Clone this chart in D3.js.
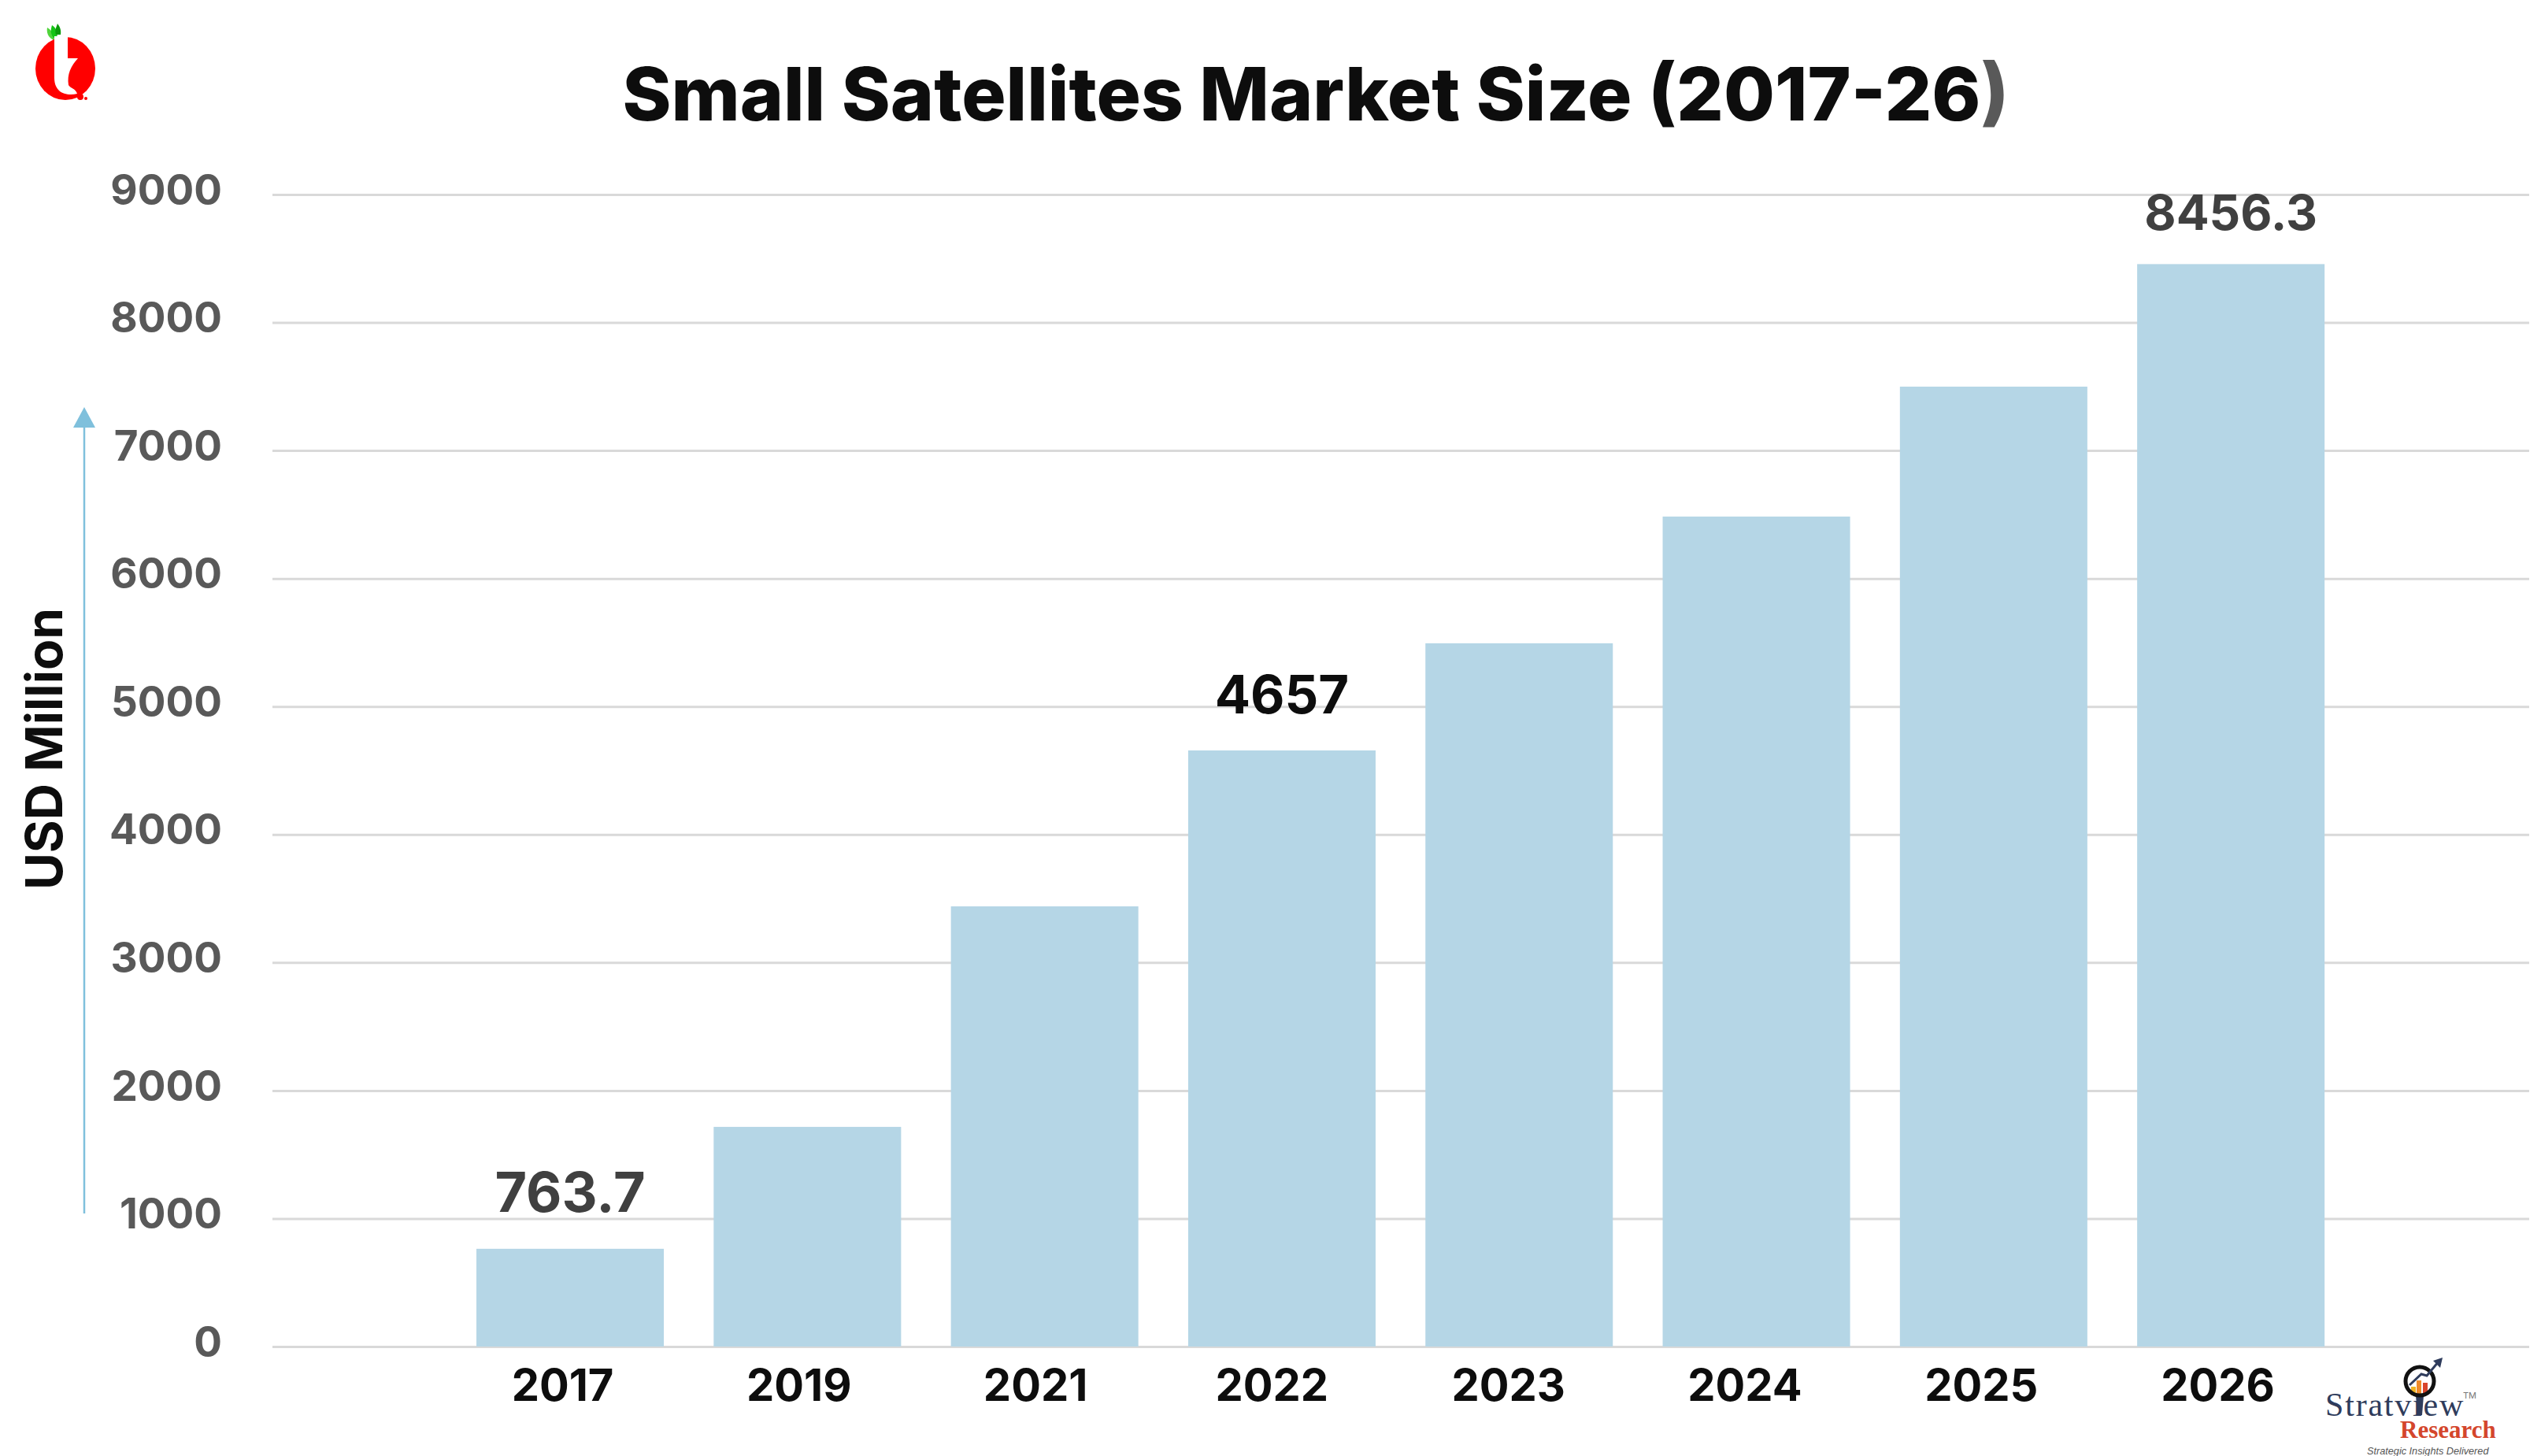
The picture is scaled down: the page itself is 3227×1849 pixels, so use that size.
<!DOCTYPE html>
<html>
<head>
<meta charset="utf-8">
<script src="https://cdn.jsdelivr.net/npm/d3@7"></script>
<style>
  html, body { margin: 0; padding: 0; background: #fff; }
  svg { display: block; }
  text { font-family: Inter, "Noto Sans", sans-serif; }
</style>
</head>
<body>
<svg id="chart"></svg>
<script>
const years = ["2017", "2019", "2021", "2022", "2023", "2024", "2025", "2026"];
const values = [763.7, 1716, 3439, 4657, 5494, 6484, 7499, 8456.3];
const yTicks = [0, 1000, 2000, 3000, 4000, 5000, 6000, 7000, 8000, 9000];
const dataLabels = { 2017: "763.7", 2022: "4657", 2026: "8456.3" };

const width = 3227, height = 1849;
const svg = d3.select("#chart").attr("width", width).attr("height", height);

const y = d3.scaleLinear().domain([0, 9000]).range([1710, 247]);
const x = d3.scaleBand().domain(years).range([573.4, 2983.8]).paddingInner(0.21).paddingOuter(0.105);
const xLabels = d3.scalePoint().domain(years).range([714, 2816]);

// gridlines + y labels
const yAxis = svg.append("g")
  .attr("transform", "translate(346,0)")
  .call(d3.axisLeft(y).tickValues(yTicks).tickFormat(d3.format("d")).tickSize(-2866).tickPadding(64));
yAxis.select(".domain").remove();
yAxis.selectAll("line").attr("stroke", "#d9d9d9").attr("stroke-width", 3);
yAxis.selectAll("text")
  .attr("dy", "0.23em")
  .attr("fill", "#595959")
  .attr("font-size", 53)
  .attr("font-weight", 700)
  .style("font-family", "Inter");

svg.selectAll(".bar")
  .data(years)
  .join("rect")
  .attr("class", "bar")
  .attr("x", (d) => x(d))
  .attr("width", x.bandwidth())
  .attr("y", (d, i) => y(values[i]))
  .attr("height", (d, i) => y(0) - y(values[i]))
  .attr("fill", "#b5d6e6");

// year labels
const xAxis = svg.append("g")
  .attr("transform", "translate(0,1710)")
  .call(d3.axisBottom(xLabels).tickSize(0).tickPadding(29));
xAxis.select(".domain").remove();
xAxis.selectAll("text")
  .attr("fill", "#0d0d0d")
  .attr("font-size", 56)
  .attr("font-weight", 700)
  .style("font-family", "Inter");

// the three labels were not set at one size in the original
const labelSize = { 2017: 70, 2022: 67, 2026: 62 };
const labelGap = { 2017: 47, 2022: 47, 2026: 43 };

svg.selectAll(".value")
  .data(years.filter((d) => dataLabels[d]))
  .join("text")
  .attr("class", "value")
  .attr("x", (d) => x(d) + x.bandwidth() / 2)
  .attr("y", (d) => y(values[years.indexOf(d)]) - labelGap[d])
  .attr("text-anchor", "middle")
  .attr("font-size", (d) => labelSize[d])
  .attr("font-weight", 700)
  .attr("fill", (d) => (d === "2022" ? "#0d0d0d" : "#404040"))
  .text((d) => dataLabels[d]);

// title, closing bracket is grey in the original
const title = svg.append("text")
  .attr("x", 1671)
  .attr("y", 153)
  .attr("text-anchor", "middle")
  .attr("font-size", 94)
  .attr("font-weight", 800)
  .attr("fill", "#0d0d0d");
title.append("tspan").text("Small Satellites Market Size (2017-26");
title.append("tspan").attr("fill", "#595959").text(")");

svg.append("text")
  .attr("transform", "translate(79,951) rotate(-90)")
  .attr("text-anchor", "middle")
  .attr("font-size", 64)
  .attr("font-weight", 700)
  .attr("fill", "#0d0d0d")
  .text("USD Million");

// axis arrow
svg.append("line")
  .attr("x1", 107).attr("x2", 107)
  .attr("y1", 1541).attr("y2", 540)
  .attr("stroke", "#7fc0dc").attr("stroke-width", 2.5);
svg.append("path").attr("d", "M107,517L121,543L93,543Z").attr("fill", "#7fc0dc");

// top left logo
const logo = svg.append("g");
logo.append("path").attr("d", "M70,52C60,48 59,40 60,35C65,38 68,42 70,52Z").attr("fill", "#4fd43a");
logo.append("path").attr("d", "M68,48C63,42 65,36 66,32C72,36 74,42 72,48Z").attr("fill", "#14c414");
logo.append("path").attr("d", "M71,44C69,38 72,34 73,30C76,34 78,38 77,44Z").attr("fill", "#0a9a0a");
logo.append("ellipse").attr("cx", 83).attr("cy", 87).attr("rx", 38).attr("ry", 40).attr("fill", "#ff0000");
logo.append("path")
  .attr("d", "M69,46L86,46L86,74L99,74C90,84 85,94 87,108C89,112 96,112 98,119C90,121 80,120 75,115C70,110 69,104 69,98Z")
  .attr("fill", "#fff");
logo.append("circle").attr("cx", 102).attr("cy", 123).attr("r", 4).attr("fill", "#ff0000");
logo.append("circle").attr("cx", 109).attr("cy", 125).attr("r", 2).attr("fill", "#ff0000");

// bottom right logo
const brand = svg.append("g");
brand.append("text")
  .attr("x", 2953).attr("y", 1798)
  .attr("font-size", 42)
  .attr("letter-spacing", 1.8)
  .attr("fill", "#2f3c5c")
  .style("font-family", "Liberation Serif")
  .text("Stratview");
brand.append("text")
  .attr("x", 3128).attr("y", 1776)
  .attr("font-size", 11)
  .attr("fill", "#777")
  .text("TM");
brand.append("rect").attr("x", 3062).attr("y", 1761).attr("width", 6).attr("height", 11).attr("fill", "#f0b323");
brand.append("rect").attr("x", 3069).attr("y", 1753).attr("width", 6).attr("height", 19).attr("fill", "#ee8a2a");
brand.append("rect").attr("x", 3077).attr("y", 1756).attr("width", 6).attr("height", 16).attr("fill", "#d9452c");
brand.append("path").attr("d", "M3068,1772L3078,1772L3076,1797L3070,1797Z").attr("fill", "#2f3c5c");
brand.append("circle").attr("cx", 3073).attr("cy", 1754).attr("r", 18)
  .attr("fill", "none").attr("stroke", "#111").attr("stroke-width", 5);
brand.append("polyline").attr("points", "3060,1759 3075,1745 3082,1747 3097,1729")
  .attr("fill", "none").attr("stroke", "#2f3c5c").attr("stroke-width", 3);
brand.append("path").attr("d", "M3102,1724L3099,1737L3090,1728Z").attr("fill", "#2f3c5c");
brand.append("text")
  .attr("x", 3048).attr("y", 1826)
  .attr("font-size", 31)
  .attr("font-weight", 700)
  .attr("fill", "#d4462c")
  .style("font-family", "Liberation Serif")
  .text("Research");
brand.append("text")
  .attr("x", 3006).attr("y", 1847)
  .attr("font-size", 12.7)
  .attr("font-style", "italic")
  .attr("fill", "#555")
  .style("font-family", "Liberation Sans")
  .text("Strategic Insights Delivered");
</script>
</body>
</html>
